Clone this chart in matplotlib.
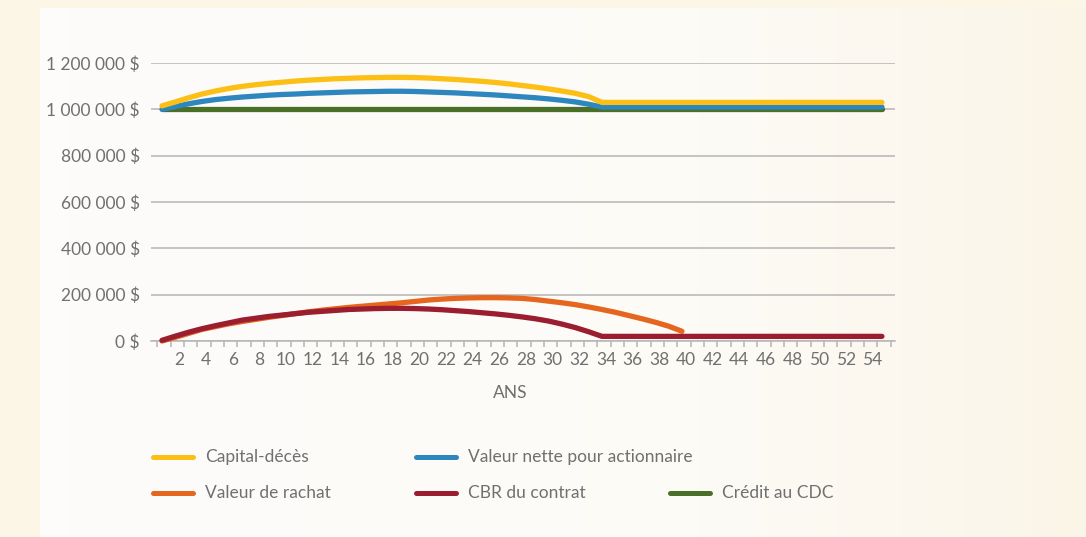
import matplotlib
matplotlib.use("Agg")
import matplotlib.pyplot as plt
import numpy as np
from matplotlib.colors import LinearSegmentedColormap
from matplotlib.lines import Line2D

# Années 1 à 55
annees = list(range(1, 56))

# Valeurs (en milliers de $)
capital_deces = [1015, 1032, 1050, 1066, 1079, 1090, 1099, 1106, 1112, 1117,
                 1122, 1126, 1129, 1132, 1134, 1136, 1137, 1138, 1138, 1137,
                 1135, 1132, 1129, 1125, 1121, 1116, 1110, 1103, 1096, 1088,
                 1079, 1069, 1055, 1030] + [1030] * 21
valeur_nette = [1000, 1012, 1024, 1034, 1042, 1048, 1053, 1057, 1061, 1064,
                1066, 1069, 1071, 1073, 1075, 1076, 1077, 1078, 1078, 1077,
                1075, 1073, 1071, 1068, 1065, 1062, 1058, 1054, 1050, 1045,
                1039, 1032, 1022, 1010] + [1010] * 21
valeur_rachat = [0, 16, 33, 50, 62, 74, 84, 93, 102, 110,
                 118, 126, 133, 139, 145, 150, 155, 160, 165, 171,
                 177, 181, 184, 186, 187, 187, 186, 184, 179, 172,
                 165, 157, 147, 136, 124, 110, 96, 81, 64, 42] + [None] * 15
cbr_contrat = [3, 21, 38, 53, 66, 78, 90, 98, 106, 112,
               118, 124, 128, 132, 136, 138, 140, 141, 141, 140,
               138, 135, 131, 127, 122, 117, 111, 104, 96, 86,
               73, 58, 40, 20] + [20] * 21
credit_cdc = [1000] * 55

series = [
    ("Crédit au CDC", credit_cdc, "#4a7027"),
    ("Valeur nette pour actionnaire", valeur_nette, "#2e86bf"),
    ("Capital-décès", capital_deces, "#fbbf15"),
    ("Valeur de rachat", valeur_rachat, "#e5661f"),
    ("CBR du contrat", cbr_contrat, "#9b1d30"),
]

plt.rcParams['font.family'] = ['Lato', 'DejaVu Sans']
gris_texte = "#707070"
gris_grille = "#b5b5b5"
taille = 12.5

fig = plt.figure(figsize=(10.86, 5.37), dpi=100, facecolor="#fcf6e7")

# fond : panneau clair avec un dégradé vers la droite
bg = fig.add_axes([40 / 1086, 0, 1 - 40 / 1086, 1 - 8 / 537], zorder=-10)
cmap = LinearSegmentedColormap.from_list("fond", ["#fdfcfa", "#fdfbf6", "#fbf5e8"])
bg.imshow(np.linspace(0, 1, 256)[None, :] ** 1.5, aspect="auto", cmap=cmap,
          extent=[0, 1, 0, 1])
bg.axis("off")

ax = fig.add_axes([151 / 1086, 1 - 341 / 537, (895 - 151) / 1086, (341 - 63) / 537])
ax.set_facecolor("none")

for nom, valeurs, couleur in series:
    y = np.array([np.nan if v is None else v * 1000 for v in valeurs], dtype=float)
    ax.plot(annees, y, color=couleur, lw=3.8, solid_capstyle="round",
            solid_joinstyle="round", clip_on=False, zorder=3)

ax.set_xlim(0.175, 55.98)
ax.set_ylim(0, 1200000)

yticks = np.arange(0, 1200001, 200000)
ax.set_yticks(yticks)
ax.set_yticklabels([("{:,}".format(v)).replace(",", " ") + " $" for v in yticks])
ax.yaxis.grid(True, color=gris_grille, lw=1.1)
ax.tick_params(axis="y", length=0, pad=8, labelsize=taille, labelcolor=gris_texte)

etiquettes = list(range(2, 55, 2))
ax.set_xticks([a + 0.3 for a in etiquettes])
ax.set_xticklabels([str(a) for a in etiquettes])
ax.set_xticks([k + 0.65 for k in range(0, 56)], minor=True)
ax.tick_params(axis="x", which="major", length=0, pad=8, labelsize=taille,
               labelcolor=gris_texte)
ax.tick_params(axis="x", which="minor", length=4.5, width=1.1, color=gris_grille)

for cote in ["top", "right", "left"]:
    ax.spines[cote].set_visible(False)
ax.spines["bottom"].set_color(gris_grille)
ax.spines["bottom"].set_linewidth(1.1)
ax.set_axisbelow(True)

fig.text(510 / 1086, 1 - 393 / 537, "ANS", ha="center", va="center",
         fontsize=taille, color=gris_texte)

# légende manuelle sur deux rangées
legende = [
    ("Capital-décès", "#fbbf15", 153, 457),
    ("Valeur nette pour actionnaire", "#2e86bf", 416, 457),
    ("Valeur de rachat", "#e5661f", 153, 493),
    ("CBR du contrat", "#9b1d30", 416, 493),
    ("Crédit au CDC", "#4a7027", 670, 493),
]
for texte, couleur, x0, y0 in legende:
    yy = 1 - y0 / 537
    fig.add_artist(Line2D([x0 / 1086, (x0 + 40) / 1086], [yy, yy], color=couleur,
                          lw=3.6, solid_capstyle="round"))
    fig.text((x0 + 52) / 1086, yy, texte, ha="left", va="center",
             fontsize=taille, color=gris_texte)

fig.savefig("out.png", dpi=100, facecolor=fig.get_facecolor())
